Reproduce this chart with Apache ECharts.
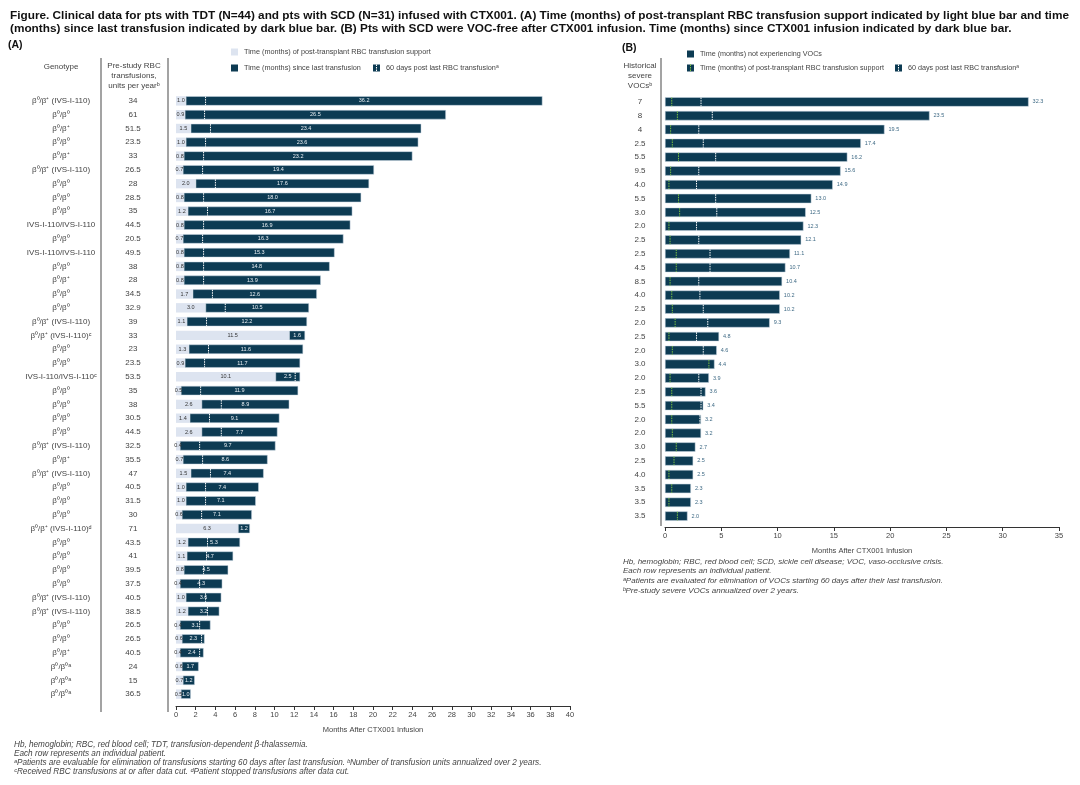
<!DOCTYPE html>
<html>
<head>
<meta charset="utf-8">
<script src="https://cdn.jsdelivr.net/npm/echarts@6/dist/echarts.min.js"></script>
<style>
  html, body { margin: 0; padding: 0; background: #fff; }
  #chart { width: 1080px; height: 785px; }
</style>
</head>
<body>
<div id="chart"></div>
<script>
// ---- Panel A: TDT patients (top to bottom)
var genotypes = [
  'β⁰/β⁺ (IVS-I-110)', 'β⁰/β⁰', 'β⁰/β⁺', 'β⁰/β⁰', 'β⁰/β⁺', 'β⁰/β⁺ (IVS-I-110)', 'β⁰/β⁰', 'β⁰/β⁰',
  'β⁰/β⁰', 'IVS-I-110/IVS-I-110', 'β⁰/β⁰', 'IVS-I-110/IVS-I-110', 'β⁰/β⁰', 'β⁰/β⁺', 'β⁰/β⁰',
  'β⁰/β⁰', 'β⁰/β⁺ (IVS-I-110)', 'β⁰/β⁺ (IVS-I-110)ᶜ', 'β⁰/β⁰', 'β⁰/β⁰', 'IVS-I-110/IVS-I-110ᶜ',
  'β⁰/β⁰', 'β⁰/β⁰', 'β⁰/β⁰', 'β⁰/β⁰', 'β⁰/β⁺ (IVS-I-110)', 'β⁰/β⁺', 'β⁰/β⁺ (IVS-I-110)',
  'β⁰/β⁰', 'β⁰/β⁰', 'β⁰/β⁰', 'β⁰/β⁺ (IVS-I-110)ᵈ', 'β⁰/β⁰', 'β⁰/β⁰', 'β⁰/β⁰', 'β⁰/β⁰',
  'β⁰/β⁺ (IVS-I-110)', 'β⁰/β⁺ (IVS-I-110)', 'β⁰/β⁰', 'β⁰/β⁰', 'β⁰/β⁺', 'β⁰/β⁰ᵃ', 'β⁰/β⁰ᵃ', 'β⁰/β⁰ᵃ'
];
var preStudyUnits = [
  '34', '61', '51.5', '23.5', '33', '26.5', '28', '28.5', '35', '44.5',
  '20.5', '49.5', '38', '28', '34.5', '32.9', '39', '33', '23', '23.5',
  '53.5', '35', '38', '30.5', '44.5', '32.5', '35.5', '47', '40.5', '31.5',
  '30', '71', '43.5', '41', '39.5', '37.5', '40.5', '38.5', '26.5', '26.5',
  '40.5', '24', '15', '36.5'
];
// months of post-transplant RBC transfusion support (light bar)
var supportMonths = [
  1.0, 0.9, 1.5, 1.0, 0.8, 0.7, 2.0, 0.8, 1.2, 0.8,
  0.7, 0.8, 0.8, 0.8, 1.7, 3.0, 1.1, 11.5, 1.3, 0.9,
  10.1, 0.5, 2.6, 1.4, 2.6, 0.4, 0.7, 1.5, 1.0, 1.0,
  0.6, 6.3, 1.2, 1.1, 0.8, 0.4, 1.0, 1.2, 0.4, 0.6,
  0.4, 0.6, 0.7, 0.5
];
// months since last transfusion (dark bar)
var sinceLastMonths = [
  36.2, 26.5, 23.4, 23.6, 23.2, 19.4, 17.6, 18.0, 16.7, 16.9,
  16.3, 15.3, 14.8, 13.9, 12.6, 10.5, 12.2, 1.6, 11.6, 11.7,
  2.5, 11.9, 8.9, 9.1, 7.7, 9.7, 8.6, 7.4, 7.4, 7.1,
  7.1, 1.2, 5.3, 4.7, 4.5, 4.3, 3.6, 3.2, 3.1, 2.3,
  2.4, 1.7, 1.2, 1.0
];

// ---- Panel B: SCD patients
var historicalVocs = [
  '7', '8', '4', '2.5', '5.5', '9.5', '4.0', '5.5', '3.0', '2.0',
  '2.5', '2.5', '4.5', '8.5', '4.0', '2.5', '2.0', '2.5', '2.0', '3.0',
  '2.0', '2.5', '5.5', '2.0', '2.0', '3.0', '2.5', '4.0', '3.5', '3.5', '3.5'
];
var vocFreeMonths = [
  32.3, 23.5, 19.5, 17.4, 16.2, 15.6, 14.9, 13.0, 12.5, 12.3,
  12.1, 11.1, 10.7, 10.4, 10.2, 10.2, 9.3, 4.8, 4.6, 4.4,
  3.9, 3.6, 3.4, 3.2, 3.2, 2.7, 2.5, 2.5, 2.3, 2.3, 2.0
];
// end of post-transplant transfusion support (green dotted mark)
var supportEndB = [
  0.6, 1.1, 0.5, 0.65, 1.2, 0.5, 0.35, 1.2, 1.3, 0.35,
  0.45, 1.0, 1.0, 0.45, 0.6, 0.65, 0.9, 0.35, 0.65, 3.9,
  0.45, 0.6, 0.6, 0.6, 0.65, 1.0, 0.8, 0.35, 0.6, 0.35, 1.1
];
// 60 days post last transfusion (white dotted mark)
var sixtyDaysB = [
  3.2, 4.2, 3.0, 3.4, 4.5, 3.0, 2.8, 4.5, 4.6, 2.8,
  3.0, 4.0, 4.0, 3.0, 3.1, 3.4, 3.8, 2.8, 3.4, null,
  3.0, 3.2, 3.2, 3.1, null, null, null, null, null, null, null
];

var DARK = '#0d3b53';
var LIGHT = '#dde4f0';
var GREEN = '#7cc242';
var FONT = '"Liberation Sans", Arial, sans-serif';
var TXT = '#444';

// 60-day marks for panel A sit 2 months after the end of transfusion support
var sixtyDaysA = [];
supportMonths.forEach(function (s, i) {
  if (s + 2 < s + sinceLastMonths[i]) sixtyDaysA.push([s + 2, i]);
});
var greenB = supportEndB.map(function (v, i) { return [v, i]; });
var whiteB = [];
sixtyDaysB.forEach(function (v, i) { if (v != null) whiteB.push([v, i]); });

function dottedMark(color) {
  return function (params, api) {
    var p = api.coord([api.value(0), api.value(1)]);
    var h = api.size([0, 1])[1] * 0.62;
    return {
      type: 'line',
      shape: { x1: p[0], y1: p[1] - h / 2, x2: p[0], y2: p[1] + h / 2 },
      style: { stroke: color, lineWidth: 1, lineDash: [1.5, 1] }
    };
  };
}

function txt(x, y, s, opt) {
  opt = opt || {};
  return {
    type: 'text', x: x, y: y, silent: true,
    style: {
      text: s, fill: opt.color || TXT, font: (opt.style || '') + ' ' + (opt.weight || 'normal') + ' ' + (opt.size || 7) + 'px ' + FONT,
      align: opt.align || 'left', verticalAlign: 'middle', lineHeight: opt.lineHeight
    }
  };
}
function box(x, y, fill, markColor) {
  var els = [{ type: 'rect', shape: { x: x, y: y - 3.5, width: 7, height: 7 }, style: { fill: fill } }];
  if (markColor) {
    els.push({ type: 'line', shape: { x1: x + 3.5, y1: y - 3.5, x2: x + 3.5, y2: y + 3.5 },
      style: { stroke: markColor, lineWidth: 1, lineDash: [1.5, 1] } });
  }
  return els;
}
function vline(x, y1, y2) {
  return { type: 'line', shape: { x1: x, y1: y1, x2: x, y2: y2 }, style: { stroke: '#666', lineWidth: 1.2 } };
}

var graphics = [
  txt(10, 16, 'Figure. Clinical data for pts with TDT (N=44) and pts with SCD (N=31) infused with CTX001. (A) Time (months) of post-transplant RBC transfusion support indicated by light blue bar and time', { weight: 'bold', size: 11.8, color: '#111' }),
  txt(10, 29, '(months) since last transfusion indicated by dark blue bar. (B) Pts with SCD were VOC-free after CTX001 infusion. Time (months) since CTX001 infusion indicated by dark blue bar.', { weight: 'bold', size: 11.8, color: '#111' }),
  txt(8, 45, '(A)', { weight: 'bold', size: 10.5, color: '#111' }),
  txt(622, 48, '(B)', { weight: 'bold', size: 10.5, color: '#111' }),
  txt(61, 67, 'Genotype', { align: 'center', size: 8 }),
  txt(134, 76, 'Pre-study RBC\ntransfusions,\nunits per yearᵇ', { align: 'center', size: 8, lineHeight: 10 }),
  txt(640, 76, 'Historical\nsevere\nVOCsᵇ', { align: 'center', size: 8, lineHeight: 10 }),
  vline(101, 58, 712), vline(168, 58, 712), vline(661, 58, 526),
  txt(244, 52, 'Time (months) of post-transplant RBC transfusion support', { size: 7.3 }),
  txt(244, 68, 'Time (months) since last transfusion', { size: 7.3 }),
  txt(386, 68, '60 days post last RBC transfusionᵃ', { size: 7.3 }),
  txt(700, 54, 'Time (months) not experiencing VOCs', { size: 7.2 }),
  txt(700, 68, 'Time (months) of post-transplant RBC transfusion support', { size: 7.2 }),
  txt(908, 68, '60 days post last RBC transfusionᵃ', { size: 7.2 }),
  txt(14, 745, 'Hb, hemoglobin; RBC, red blood cell; TDT, transfusion-dependent β-thalassemia.', { style: 'italic', size: 8.2 }),
  txt(14, 754, 'Each row represents an individual patient.', { style: 'italic', size: 8.2 }),
  txt(14, 763, 'ᵃPatients are evaluable for elimination of transfusions starting 60 days after last transfusion. ᵇNumber of transfusion units annualized over 2 years.', { style: 'italic', size: 8.2 }),
  txt(14, 772, 'ᶜReceived RBC transfusions at or after data cut. ᵈPatient stopped transfusions after data cut.', { style: 'italic', size: 8.2 }),
  txt(623, 562, 'Hb, hemoglobin; RBC, red blood cell; SCD, sickle cell disease; VOC, vaso-occlusive crisis.', { style: 'italic', size: 8 }),
  txt(623, 571, 'Each row represents an individual patient.', { style: 'italic', size: 8 }),
  txt(623, 581, 'ᵃPatients are evaluated for elimination of VOCs starting 60 days after their last transfusion.', { style: 'italic', size: 8 }),
  txt(623, 591, 'ᵇPre-study severe VOCs annualized over 2 years.', { style: 'italic', size: 8 })
]
  .concat(box(231, 52, LIGHT))
  .concat(box(231, 68, DARK))
  .concat(box(373, 68, DARK, '#fff'))
  .concat(box(687, 54, DARK))
  .concat(box(687, 68, DARK, GREEN))
  .concat(box(895, 68, DARK, '#fff'));

var chart = echarts.init(document.getElementById('chart'), null, { renderer: 'canvas' });

var axisX = function (grid, max, interval, offset) {
  return {
    type: 'value', gridIndex: grid, min: 0, max: max, interval: interval, offset: offset,
    name: 'Months After CTX001 Infusion', nameLocation: 'middle', nameGap: 20,
    nameTextStyle: { fontSize: 7.5, color: TXT, fontFamily: FONT },
    axisLine: { show: true, lineStyle: { color: '#333', width: 1 } },
    axisTick: { show: true, length: 4, lineStyle: { color: '#333' } },
    axisLabel: { fontSize: 7.5, color: TXT, margin: 5, fontFamily: FONT },
    splitLine: { show: false }
  };
};
var axisY = function (grid, data, margin) {
  return {
    type: 'category', gridIndex: grid, data: data, inverse: true, position: 'left',
    axisLine: { show: false }, axisTick: { show: false }, splitLine: { show: false },
    axisLabel: { align: 'center', margin: margin, fontSize: 8, color: TXT, fontFamily: FONT, interval: 0 }
  };
};

var option = {
  animation: false,
  backgroundColor: '#fff',
  textStyle: { fontFamily: FONT },
  grid: [
    { left: 176, top: 94, width: 394, height: 607 },
    { left: 665, top: 95, width: 394, height: 428 }
  ],
  xAxis: [axisX(0, 40, 2, 5), axisX(1, 35, 5, 4)],
  yAxis: [axisY(0, genotypes, 115), axisY(0, preStudyUnits, 43), axisY(1, historicalVocs, 25)],
  series: [
    {
      type: 'bar', xAxisIndex: 0, yAxisIndex: 0, stack: 'tdt', data: supportMonths,
      barCategoryGap: '32%',
      itemStyle: { color: LIGHT },
      label: { show: true, position: 'inside', fontSize: 5.5, color: '#333',
        formatter: function (p) { return p.value.toFixed(1); } }
    },
    {
      type: 'bar', xAxisIndex: 0, yAxisIndex: 0, stack: 'tdt', data: sinceLastMonths,
      barCategoryGap: '32%',
      itemStyle: { color: DARK, borderColor: '#c9d7e2', borderWidth: 0.5 },
      label: { show: true, position: 'inside', fontSize: 5.5, color: '#e8eef3',
        formatter: function (p) { return p.value.toFixed(1); } }
    },
    {
      type: 'custom', xAxisIndex: 0, yAxisIndex: 0, data: sixtyDaysA, z: 5,
      renderItem: dottedMark('#ffffff'), silent: true
    },
    {
      type: 'bar', xAxisIndex: 1, yAxisIndex: 2, data: vocFreeMonths,
      barCategoryGap: '32%',
      itemStyle: { color: DARK, borderColor: '#c9d7e2', borderWidth: 0.5 },
      label: { show: true, position: 'right', distance: 4, fontSize: 5.5, color: '#3f6a85',
        formatter: function (p) { return p.value.toFixed(1); } }
    },
    {
      type: 'custom', xAxisIndex: 1, yAxisIndex: 2, data: greenB, z: 5,
      renderItem: dottedMark(GREEN), silent: true
    },
    {
      type: 'custom', xAxisIndex: 1, yAxisIndex: 2, data: whiteB, z: 5,
      renderItem: dottedMark('#ffffff'), silent: true
    }
  ],
  graphic: graphics
};

chart.setOption(option);
</script>
</body>
</html>
